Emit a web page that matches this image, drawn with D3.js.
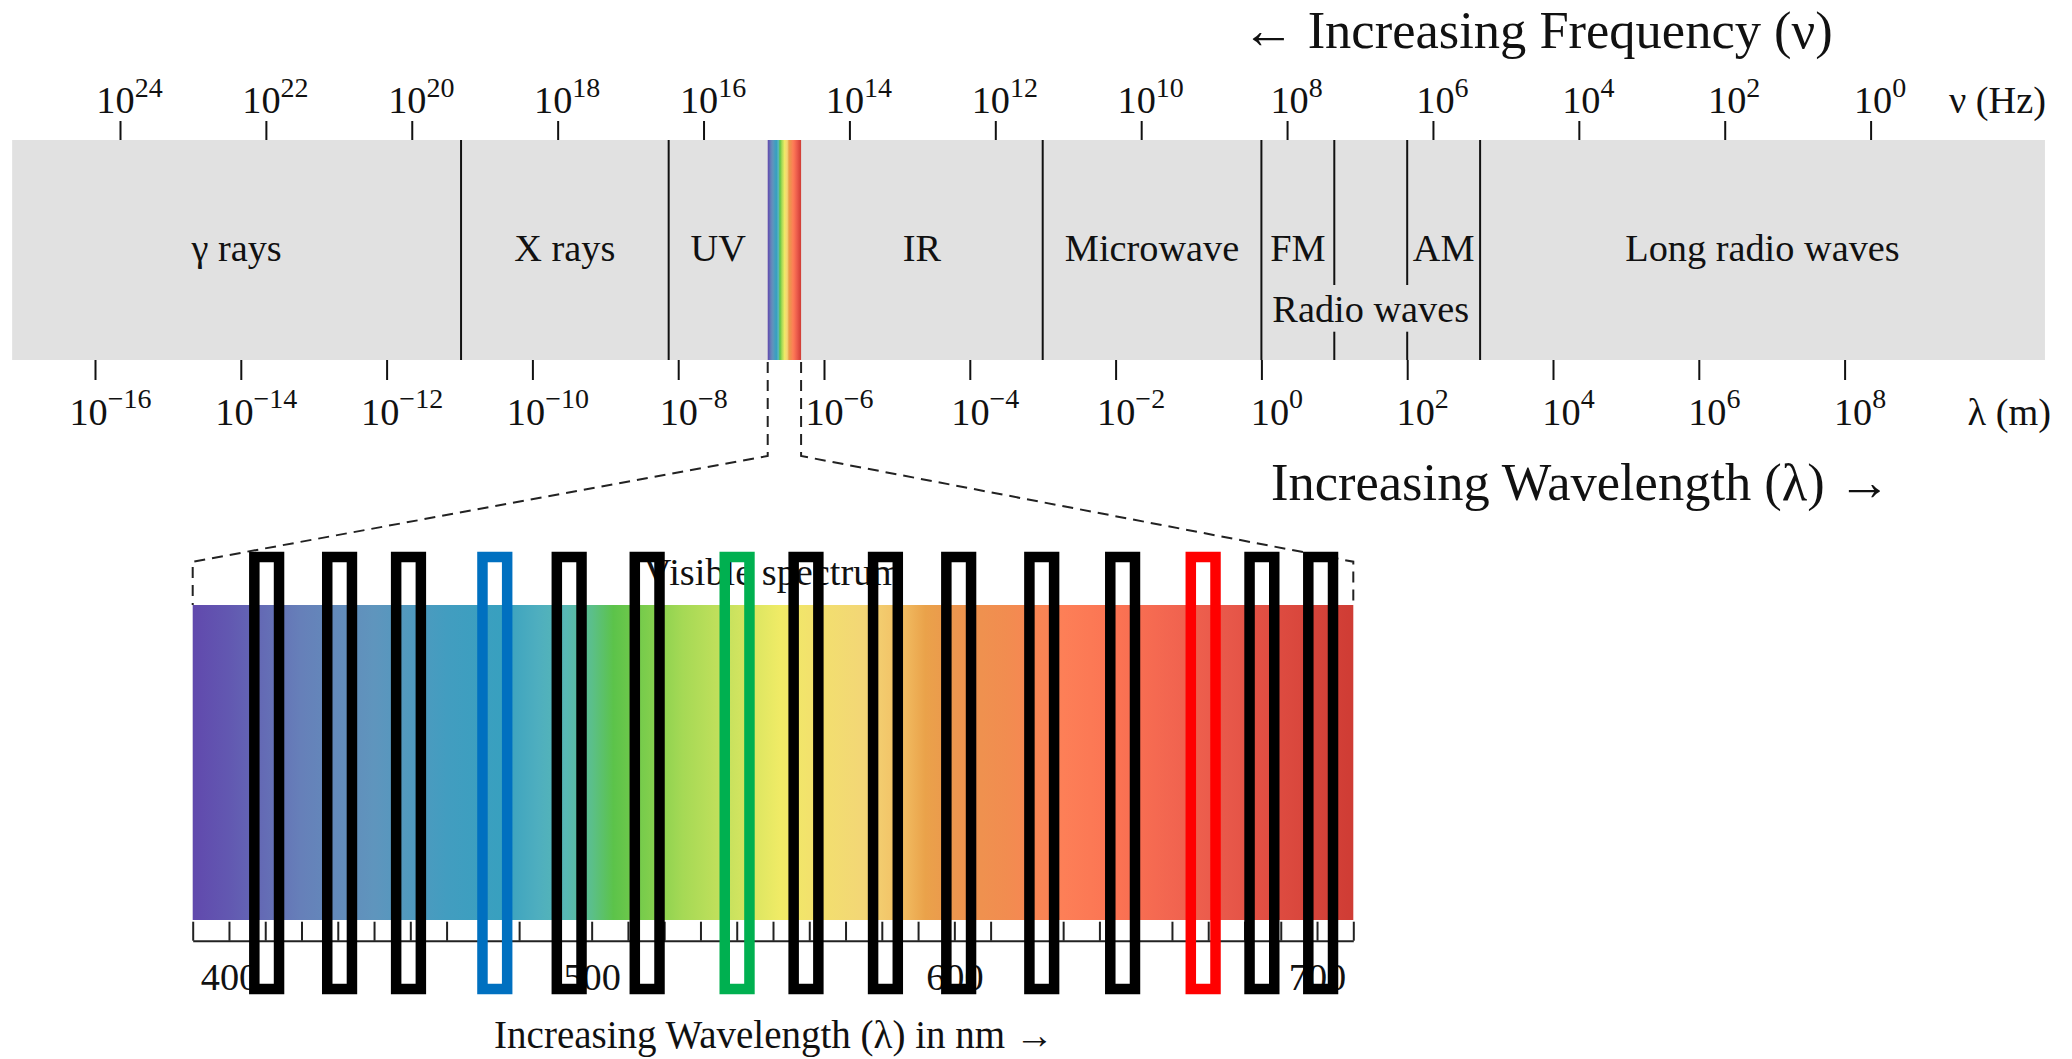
<!DOCTYPE html>
<html>
<head>
<meta charset="utf-8">
<script src="https://cdn.jsdelivr.net/npm/d3@7"></script>
<style>
  html, body { margin: 0; padding: 0; background: #ffffff; }
  svg { display: block; font-family: "Liberation Serif", "Times New Roman", serif; }
</style>
</head>
<body>
<svg id="chart" width="2072" height="1059"></svg>
<script>
// ---- Electromagnetic spectrum: axes ----
const freqTicks = [1e24, 1e22, 1e20, 1e18, 1e16, 1e14, 1e12, 1e10, 1e8, 1e6, 1e4, 1e2, 1];
const freqExponents = ["24", "22", "20", "18", "16", "14", "12", "10", "8", "6", "4", "2", "0"];
const waveTicks = [1e-16, 1e-14, 1e-12, 1e-10, 1e-8, 1e-6, 1e-4, 1e-2, 1, 1e2, 1e4, 1e6, 1e8];
const waveExponents = ["−16", "−14", "−12", "−10", "−8", "−6", "−4", "−2", "0", "2", "4", "6", "8"];

// ---- Regions of the band (wavelength in metres) ----
const bandExtent = [7.3e-18, 5.6e10];
const regionNames = ["γ rays", "X rays", "UV", "IR", "Microwave", "FM", "AM", "Long radio waves"];
const regionStart = [7.3e-18, 1.05e-11, 7.4e-9, 4.85e-7, 1e-3, 1, 100, 1000];
const regionEnd   = [1.05e-11, 7.4e-9, 1.69e-7, 1e-3, 1, 10, 1000, 5.6e10];
const fullDividers = [1.05e-11, 7.4e-9, 1e-3, 1, 1000];
const splitDividers = [10, 100];
const radioWavesRange = [1, 1000];
const visibleBand = [1.69e-7, 4.85e-7];

// ---- Visible spectrum detail (nm) ----
const visibleRangeNm = [390, 710];
const nmTicks = [390, 400, 410, 420, 430, 440, 450, 460, 470, 480, 490, 500, 510, 520, 530, 540, 550,
                 560, 570, 580, 590, 600, 610, 620, 630, 640, 650, 660, 670, 680, 690, 700, 710];
const nmLabels = [400, 500, 600, 700];
const gradientNm = [390, 400, 420, 440, 460, 475, 485, 493, 500, 506, 515, 525, 540, 552, 560,
                    575, 585, 592, 600, 615, 630, 645, 660, 675, 690, 710];
const gradientColor = ["#6149ad", "#6258b1", "#6680b9", "#5f95bd", "#429dc0", "#38a0bf", "#4eaebf",
                       "#58b8b5", "#5bbf8a", "#5cc34a", "#7ccd4c", "#a5d955", "#cee35f", "#f0eb66",
                       "#f2e26c", "#f3d676", "#f2c065", "#eaa24a", "#ec964e", "#f28c50", "#fd7f57",
                       "#fb7353", "#f26550", "#e8584a", "#dd4b40", "#cf3c34"];

// ---- Marked spectral lines (nm) ----
const lineNm = [410.4, 430.5, 449.5, 473.3, 493.8, 515.3, 540.1, 559.1, 581.0, 601.2, 624.1, 646.4, 668.6, 684.8, 701.0];
const lineColor = ["#000000", "#000000", "#000000", "#0070c0", "#000000", "#000000", "#00b050", "#000000",
                   "#000000", "#000000", "#000000", "#000000", "#ff0000", "#000000", "#000000"];

const ink = "#111111";
const labelSize = 38.3, supSize = 28, titleSize = 52.5;
const svg = d3.select("#chart");

const xWave = d3.scaleLog().domain([1e-16, 1e8]).range([95, 1844.6]);
const xFreq = d3.scaleLog().domain([1e24, 1]).range([120, 1870.6]);
const xNm = d3.scaleLinear().domain(visibleRangeNm).range([192.7, 1353.3]);

const bandTop = 140, bandBottom = 360;

// gradient shared by the narrow strip and the enlarged spectrum
const grad = svg.append("defs").append("linearGradient")
  .attr("id", "spectrum").attr("x1", "0").attr("x2", "1").attr("y1", "0").attr("y2", "0");
grad.selectAll("stop").data(gradientNm).join("stop")
  .attr("offset", d => (d - visibleRangeNm[0]) / (visibleRangeNm[1] - visibleRangeNm[0]))
  .attr("stop-color", (d, i) => gradientColor[i]);

// ---- main band ----
svg.append("rect")
  .attr("x", xWave(bandExtent[0])).attr("y", bandTop)
  .attr("width", xWave(bandExtent[1]) - xWave(bandExtent[0])).attr("height", bandBottom - bandTop)
  .attr("fill", "#e1e1e1");

svg.append("rect")
  .attr("x", xWave(visibleBand[0])).attr("y", bandTop)
  .attr("width", xWave(visibleBand[1]) - xWave(visibleBand[0])).attr("height", bandBottom - bandTop)
  .attr("fill", "url(#spectrum)");

svg.append("g").selectAll("line").data(fullDividers).join("line")
  .attr("x1", d => xWave(d)).attr("x2", d => xWave(d))
  .attr("y1", bandTop).attr("y2", bandBottom)
  .attr("stroke", ink).attr("stroke-width", 2);

const split = svg.append("g").selectAll("g").data(splitDividers).join("g");
split.append("line")
  .attr("x1", d => xWave(d)).attr("x2", d => xWave(d))
  .attr("y1", bandTop).attr("y2", 285)
  .attr("stroke", ink).attr("stroke-width", 2);
split.append("line")
  .attr("x1", d => xWave(d)).attr("x2", d => xWave(d))
  .attr("y1", 331.7).attr("y2", bandBottom)
  .attr("stroke", ink).attr("stroke-width", 2);

svg.append("g").selectAll("text").data(regionNames).join("text")
  .attr("x", (d, i) => (xWave(regionStart[i]) + xWave(regionEnd[i])) / 2)
  .attr("y", 261)
  .attr("text-anchor", "middle").attr("font-size", labelSize).attr("fill", ink)
  .text(d => d);

svg.append("text")
  .attr("x", (xWave(radioWavesRange[0]) + xWave(radioWavesRange[1])) / 2)
  .attr("y", 322)
  .attr("text-anchor", "middle").attr("font-size", labelSize).attr("fill", ink)
  .text("Radio waves");

// ---- frequency axis (top) ----
const topAxis = svg.append("g").attr("transform", `translate(0,${bandTop})`)
  .call(d3.axisTop(xFreq).tickValues(freqTicks).tickSize(19).tickPadding(8).tickFormat(() => "10"));
topAxis.select(".domain").remove();
topAxis.attr("font-family", null).attr("font-size", null);
topAxis.selectAll(".tick line").attr("stroke", ink).attr("stroke-width", 2);
topAxis.selectAll(".tick text")
  .attr("fill", ink).attr("font-size", labelSize).attr("dx", 9).attr("dy", 0)
  .each(function (d, i) {
    d3.select(this).append("tspan").attr("dy", -16.5).attr("font-size", supSize).text(freqExponents[i]);
  });

// ---- wavelength axis (bottom) ----
const botAxis = svg.append("g").attr("transform", `translate(0,${bandBottom})`)
  .call(d3.axisBottom(xWave).tickValues(waveTicks).tickSize(20).tickFormat(() => "10"));
botAxis.select(".domain").remove();
botAxis.attr("font-family", null).attr("font-size", null);
botAxis.selectAll(".tick line").attr("stroke", ink).attr("stroke-width", 2);
botAxis.selectAll(".tick text")
  .attr("fill", ink).attr("font-size", labelSize).attr("y", 65).attr("dy", 0).attr("dx", 15)
  .each(function (d, i) {
    d3.select(this).append("tspan").attr("dy", -17).attr("font-size", supSize).text(waveExponents[i]);
  });

svg.append("text").attr("x", 2046).attr("y", 113).attr("text-anchor", "end")
  .attr("font-size", labelSize).attr("fill", ink).text("ν (Hz)");
svg.append("text").attr("x", 2051).attr("y", 425).attr("text-anchor", "end")
  .attr("font-size", labelSize).attr("fill", ink).text("λ (m)");

// titles
svg.append("text").attr("x", 1242).attr("y", 48)
  .attr("font-size", titleSize).attr("fill", ink).text("← Increasing Frequency (ν)");
svg.append("text").attr("x", 1271).attr("y", 500)
  .attr("font-size", titleSize).attr("fill", ink).text("Increasing Wavelength (λ) →");

// ---- dashed connector from the strip to the enlarged spectrum ----
const specTop = 605, specBottom = 920, rulerY = 940.7;
const connector = d3.line();
[[visibleBand[0], visibleRangeNm[0]], [visibleBand[1], visibleRangeNm[1]]].forEach(([m, nm]) => {
  svg.append("path")
    .attr("d", connector([[xWave(m), bandBottom + 2], [xWave(m), 456], [xNm(nm), 561.7], [xNm(nm), specTop]]))
    .attr("fill", "none").attr("stroke", "#222").attr("stroke-width", 2).attr("stroke-dasharray", "11,7");
});

// ---- enlarged visible spectrum ----
svg.append("rect")
  .attr("x", xNm(visibleRangeNm[0])).attr("y", specTop)
  .attr("width", xNm(visibleRangeNm[1]) - xNm(visibleRangeNm[0])).attr("height", specBottom - specTop)
  .attr("fill", "url(#spectrum)");

svg.append("text")
  .attr("x", (xNm(visibleRangeNm[0]) + xNm(visibleRangeNm[1])) / 2).attr("y", 585)
  .attr("text-anchor", "middle").attr("font-size", labelSize).attr("fill", ink)
  .text("Visible spectrum");

const ruler = svg.append("g").attr("transform", `translate(0,${rulerY})`)
  .call(d3.axisBottom(xNm).tickValues(nmTicks).tickSizeInner(-19).tickSizeOuter(0)
    .tickFormat(d => nmLabels.includes(d) ? String(d) : ""));
ruler.attr("font-family", null).attr("font-size", null);
ruler.select(".domain").attr("stroke", "#222").attr("stroke-width", 2);
ruler.selectAll(".tick line").attr("stroke", "#222").attr("stroke-width", 2);
ruler.selectAll(".tick text").attr("fill", ink).attr("font-size", labelSize).attr("y", 49.3).attr("dy", 0);

svg.append("text").attr("x", 774).attr("y", 1048).attr("text-anchor", "middle")
  .attr("font-size", 39).attr("fill", ink).text("Increasing Wavelength (λ) in nm →");

// ---- outlined spectral lines drawn over the spectrum ----
svg.append("g").selectAll("rect").data(lineNm).join("rect")
  .attr("x", d => xNm(d) - 12.35).attr("width", 24.7)
  .attr("y", 557).attr("height", 432)
  .attr("fill", "none").attr("stroke", (d, i) => lineColor[i]).attr("stroke-width", 10.5);
</script>
</body>
</html>
